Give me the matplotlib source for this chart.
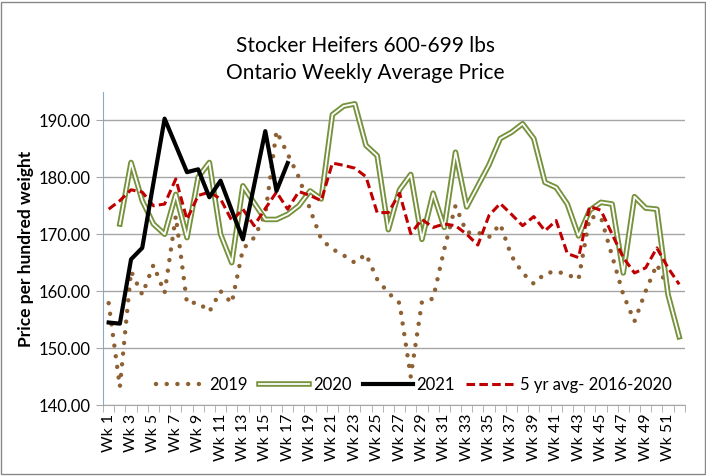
import numpy as np
import matplotlib
matplotlib.use("Agg")
from matplotlib import pyplot as plt
from matplotlib.lines import Line2D
from matplotlib.patches import Rectangle

plt.rcParams['font.family'] = ['Liberation Sans Narrow', 'Lato', 'DejaVu Sans']

weeks = list(range(1, 53))
week_labels = ["Wk %d" % w for w in weeks]

y2019 = [157.9, 143.2, 163.5, 159.4, 164.6, 159.7, 173.2, 157.9, 158.0, 156.4,
         160.0, 157.9, 167.4, 169.4, 173.5, 188.1, 184.1, 180.0, 174.4, 169.1,
         167.4, 166.3, 165.0, 166.5, 162.1, 159.7, 157.9, 145.0, 158.1, 158.7,
         167.4, 175.0, 170.3, 170.3, 169.5, 171.8, 166.2, 163.2, 161.3, 163.1,
         163.5, 162.9, 162.1, 173.0, 173.0, 166.2, 159.4, 154.7, 160.0, 164.7,
         160.6, None]
y2020 = [None, 171.8, 182.6, 175.9, 171.8, 170.0, 177.0, 169.4, 180.0, 182.6,
         170.0, 165.0, 178.5, 175.5, 172.6, 172.6, 173.5, 175.0, 177.6, 176.2,
         191.0, 192.5, 192.9, 185.6, 183.8, 170.8, 177.8, 180.5, 169.1, 177.2,
         171.2, 184.4, 174.8, 178.5, 182.2, 186.8, 187.9, 189.4, 186.8, 179.1,
         178.2, 175.3, 169.7, 174.2, 175.6, 175.3, 163.2, 176.6, 174.6, 174.4,
         159.4, 152.0]
y2021 = [154.5, 154.3, 165.6, 167.6, 179.0, 190.3, 185.6, 180.9, 181.4, 176.5,
         179.4, 174.2, 169.1, 178.6, 188.1, 177.6, 182.5]
avg5 = [174.4, 175.9, 177.8, 177.4, 175.0, 175.3, 179.7, 172.6, 176.8, 177.4,
        176.2, 172.4, 174.4, 171.5, 174.5, 177.4, 174.4, 177.5, 176.8, 175.9,
        182.5, 182.1, 181.6, 180.1, 173.8, 173.8, 177.2, 170.1, 172.6, 171.2,
        171.8, 171.5, 170.0, 168.1, 173.3, 175.4, 173.5, 171.5, 173.1, 170.6,
        172.4, 166.6, 165.9, 174.9, 174.2, 170.0, 165.9, 163.2, 164.1, 167.6,
        164.1, 161.2]

def arr(v):
    return np.array([np.nan if a is None else a for a in v], dtype=float)

olive = '#76923C'
brown = '#8E6134'
red = '#C00000'
dots = (0, (0.01, 2.4))

fig = plt.figure(figsize=(7.06, 4.76), dpi=100)
ax = fig.add_axes([0.146, 0.149, 0.824, 0.658])

# 2019 dotted
ax.plot(weeks, arr(y2019), color=brown, lw=3.2, linestyle=dots,
        dash_capstyle='round', zorder=3)
# 2020 double line
ax.plot(weeks, arr(y2020), color=olive, lw=4.0, solid_joinstyle='round', zorder=4)
ax.plot(weeks, arr(y2020), color='white', lw=1.3, solid_joinstyle='round', zorder=4)
# 5 yr avg
ax.plot(weeks, arr(avg5), color=red, lw=2.2, linestyle=(0, (2.8, 1.4)), zorder=5)
# 2021
ax.plot(weeks[:len(y2021)], y2021, color='black', lw=3.0, zorder=6)

ax.set_xlim(0.5, 52.5)
ax.set_ylim(140, 195)
ax.set_yticks(np.arange(140, 191, 10))
ax.set_yticklabels(["%.2f" % v for v in np.arange(140, 191, 10)], fontsize=12)
ax.set_xticks(weeks[::2])
ax.set_xticklabels(week_labels[::2], rotation=90, fontsize=11.5)
ax.set_xticks(np.arange(0.5, 53, 1), minor=True)
ax.tick_params(axis='x', which='major', length=0, pad=6)
ax.tick_params(axis='x', which='minor', length=5, color='#A6A6A6')
ax.tick_params(axis='y', length=5, color='#A6A6A6', pad=4)

ax.yaxis.grid(True, color='#A6A6A6', lw=1)
ax.set_axisbelow(True)
for s in ['top', 'right']:
    ax.spines[s].set_visible(False)
ax.spines['left'].set_color('#8EA9C8')
ax.spines['bottom'].set_color('#A6A6A6')

ax.set_ylabel("Price per hundred weight", fontsize=12.5, fontweight='bold', labelpad=3)

h2019 = Line2D([], [], color=brown, lw=3.2, linestyle=dots, dash_capstyle='round')
h2020a = Line2D([], [], color=olive, lw=4.0)
h2020b = Line2D([], [], color='white', lw=1.3)
h2021 = Line2D([], [], color='black', lw=3.0)
havg = Line2D([], [], color=red, lw=2.2, linestyle=(0, (2.8, 1.4)))
ax.legend([h2019, (h2020a, h2020b), h2021, havg],
          ["2019", "2020", "2021", "5 yr avg- 2016-2020"],
          loc='center', bbox_to_anchor=(0.534, 0.064), ncol=4, frameon=False,
          fontsize=12, handlelength=3.0, handletextpad=0.2, columnspacing=0.7)

fig.text(0.518, 0.875, "Stocker Heifers 600-699 lbs\nOntario Weekly Average Price",
         ha='center', va='center', fontsize=15, linespacing=1.4)

fig.patches.append(Rectangle((0.002, 0.004), 0.996, 0.992, transform=fig.transFigure,
                             fill=False, edgecolor='#888888', lw=1))

fig.savefig("out.png", dpi=100)
